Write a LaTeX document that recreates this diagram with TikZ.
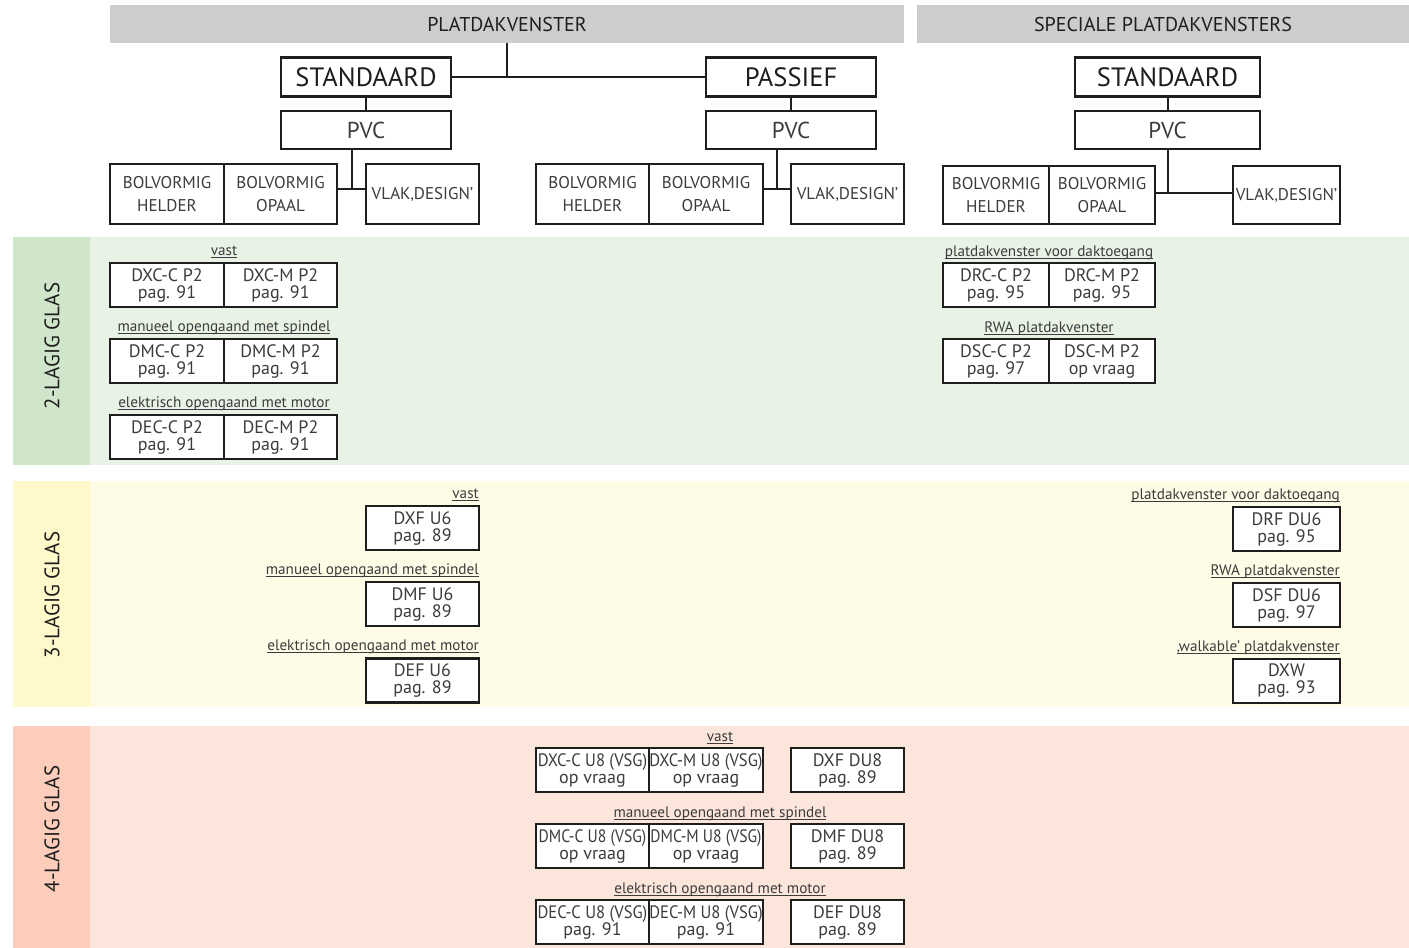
\documentclass[tikz,border=0pt]{standalone}
\usepackage{fontspec}
\setmainfont{PT Sans}
\definecolor{hdrgray}{HTML}{CCCDCF}
\definecolor{gl}{HTML}{E8F3E6}
\definecolor{gd}{HTML}{CFE6CB}
\definecolor{yl}{HTML}{FEFBE6}
\definecolor{yd}{HTML}{FFF8CB}
\definecolor{pl}{HTML}{FCE6DC}
\definecolor{pd}{HTML}{FBCDBA}
\definecolor{txt}{HTML}{3C3C3C}
\definecolor{dark}{HTML}{1E1E1E}
\newsavebox\ulbox
\newcommand\ulab[1]{\sbox\ulbox{#1}\rlap{\color{txt}\rule[-1.8pt]{\wd\ulbox}{0.7pt}}\usebox\ulbox}
\newcommand\sqzA[1]{\scalebox{0.92}[1]{#1}}
\newcommand\sqzB[1]{\scalebox{0.87}[1]{#1}}
\tikzset{
  hdr/.style={fill=hdrgray, inner sep=0, text=dark, font=\fontsize{20}{22}\selectfont},
  topbox/.style={draw=dark, line width=2.2pt, fill=white, inner sep=0, minimum height=39pt, text=dark, font=\fontsize{26.5}{28}\selectfont},
  pvcbox/.style={draw=dark, line width=2.2pt, fill=white, inner sep=0, minimum height=38pt, text=txt, font=\fontsize{23}{25}\selectfont},
  catbox/.style={draw=dark, line width=2.2pt, fill=white, inner sep=0, minimum height=60pt, align=center, text=txt, font=\fontsize{17}{23}\selectfont},
  pbox/.style={draw=dark, line width=2.2pt, fill=white, inner sep=0, minimum height=44pt, align=center, text=txt, font=\fontsize{18}{17}\selectfont},
  lab/.style={inner sep=0, text=txt, font=\fontsize{15.2}{17}\selectfont},
  side/.style={inner sep=0, rotate=90, text=dark, font=\fontsize{21}{23}\selectfont},
  conn/.style={draw=dark, line width=2pt},
}
\begin{document}
\begin{tikzpicture}[x=1pt,y=-1pt]
\useasboundingbox (0,0) rectangle (1409,948);
% bands
\fill[gl] (13,237) rectangle (1409,465);
\fill[gd] (13,237) rectangle (90,465);
\fill[yl] (13,481) rectangle (1409,707);
\fill[yd] (13,481) rectangle (90,707);
\fill[pl] (13,726) rectangle (1409,948);
\fill[pd] (13,726) rectangle (90,948);
\node[side] (s2) at (52,346) {2-LAGIG GLAS};
\node[side] (s3) at (52,595) {3-LAGIG GLAS};
\node[side] (s4) at (52,829) {4-LAGIG GLAS};
% headers
\node[hdr, minimum width=794pt, minimum height=38pt] (h1) at (507,24) {PLATDAKVENSTER};
\node[hdr, minimum width=492pt, minimum height=38pt] (h2) at (1163,24) {SPECIALE PLATDAKVENSTERS};
% level 1
\node[topbox, minimum width=170pt] (std1) at (366,77) {STANDAARD};
\node[topbox, minimum width=170pt] (pas) at (791,77) {PASSIEF};
\node[topbox, minimum width=185pt] (std2) at (1167.5,77) {STANDAARD};
\node[pvcbox, minimum width=170pt] (pvc1) at (366,130) {PVC};
\node[pvcbox, minimum width=170pt] (pvc2) at (791,130) {PVC};
\node[pvcbox, minimum width=185pt] (pvc3) at (1167.5,130) {PVC};
% categories
\node[catbox, minimum width=114pt] (lh) at (167,194) {BOLVORMIG\\HELDER};
\node[catbox, minimum width=113pt] (lo) at (280.5,194) {BOLVORMIG\\OPAAL};
\node[catbox, minimum width=113pt] (lv) at (422.5,194) {VLAK‚DESIGN’};
\node[catbox, minimum width=113pt] (mh) at (592.5,194) {BOLVORMIG\\HELDER};
\node[catbox, minimum width=114pt] (mo) at (706,194) {BOLVORMIG\\OPAAL};
\node[catbox, minimum width=113pt] (mv) at (847.5,194) {VLAK‚DESIGN’};
\node[catbox, minimum width=106pt, minimum height=58pt] (rh) at (996,195) {BOLVORMIG\\HELDER};
\node[catbox, minimum width=106pt, minimum height=58pt] (ro) at (1102,195) {BOLVORMIG\\OPAAL};
\node[catbox, minimum width=107pt, minimum height=58pt] (rv) at (1286.5,195) {VLAK‚DESIGN’};
% connectors
\coordinate (j1) at (352,189);
\coordinate (j2) at (777,189);
\coordinate (j3) at (1168,193);
\draw[conn] (h1.south) -- (h1.south |- std1.east);
\draw[conn] (std1.east) -- (pas.west);
\draw[conn] (std1.south) -- (pvc1.north);
\draw[conn] (pas.south) -- (pvc2.north);
\draw[conn] (std2.south) -- (pvc3.north);
\draw[conn] (j1 |- pvc1.south) -- (j1);
\draw[conn] (lo.east |- j1) -- (lv.west |- j1);
\draw[conn] (j2 |- pvc2.south) -- (j2);
\draw[conn] (mo.east |- j2) -- (mv.west |- j2);
\draw[conn] (j3 |- pvc3.south) -- (j3);
\draw[conn] (ro.east |- j3) -- (rv.west |- j3);
% green band
\node[lab] (g1) at (224,252) {\ulab{vast}};
\node[pbox, minimum width=114pt] (dxcc) at (167,285) {DXC-C P2\\pag. 91};
\node[pbox, minimum width=113pt] (dxcm) at (280.5,285) {DXC-M P2\\pag. 91};
\node[lab] (g2) at (224,328) {\ulab{manueel opengaand met spindel}};
\node[pbox, minimum width=114pt] (dmcc) at (167,361) {DMC-C P2\\pag. 91};
\node[pbox, minimum width=113pt] (dmcm) at (280.5,361) {DMC-M P2\\pag. 91};
\node[lab] (g3) at (224,404) {\ulab{elektrisch opengaand met motor}};
\node[pbox, minimum width=114pt] (decc) at (167,437) {DEC-C P2\\pag. 91};
\node[pbox, minimum width=113pt] (decm) at (280.5,437) {DEC-M P2\\pag. 91};
\node[lab] (g4) at (1049,253) {\ulab{platdakvenster voor daktoegang}};
\node[pbox, minimum width=106pt] (drcc) at (996,285) {DRC-C P2\\pag. 95};
\node[pbox, minimum width=106pt] (drcm) at (1102,285) {DRC-M P2\\pag. 95};
\node[lab] (g5) at (1049,329) {\ulab{RWA platdakvenster}};
\node[pbox, minimum width=106pt] (dscc) at (996,361) {DSC-C P2\\pag. 97};
\node[pbox, minimum width=106pt] (dscm) at (1102,361) {DSC-M P2\\op vraag};
% yellow band
\node[lab, anchor=east] (y1) at (479,495) {\ulab{vast}};
\node[pbox, minimum width=113pt] (dxf) at (422.5,528) {DXF U6\\pag. 89};
\node[lab, anchor=east] (y2) at (479,571) {\ulab{manueel opengaand met spindel}};
\node[pbox, minimum width=113pt] (dmf) at (422.5,604) {DMF U6\\pag. 89};
\node[lab, anchor=east] (y3) at (479,647) {\ulab{elektrisch opengaand met motor}};
\node[pbox, minimum width=113pt] (def) at (422.5,680.5) {DEF U6\\pag. 89};
\node[lab, anchor=east] (y4) at (1340,496) {\ulab{platdakvenster voor daktoegang}};
\node[pbox, minimum width=107pt] (drf) at (1286.5,529) {DRF DU6\\pag. 95};
\node[lab, anchor=east] (y5) at (1340,572) {\ulab{RWA platdakvenster}};
\node[pbox, minimum width=107pt] (dsf) at (1286.5,605) {DSF DU6\\pag. 97};
\node[lab, anchor=east] (y6) at (1340,648) {\ulab{‚walkable’ platdakvenster}};
\node[pbox, minimum width=107pt] (dxw) at (1286.5,681) {DXW\\pag. 93};
% pink band
\node[lab] (p1) at (720,738) {\ulab{vast}};
\node[pbox, minimum width=113pt] (dxcu) at (592.5,770) {\sqzA{DXC-C U8 (VSG)}\\op vraag};
\node[pbox, minimum width=114pt] (dxmu) at (706,770) {\sqzA{DXC-M U8 (VSG)}\\op vraag};
\node[pbox, minimum width=113pt] (dxfd) at (847.5,770) {DXF DU8\\pag. 89};
\node[lab] (p2) at (720,814) {\ulab{manueel opengaand met spindel}};
\node[pbox, minimum width=113pt] (dmcu) at (592.5,846) {\sqzB{DMC-C U8 (VSG)}\\op vraag};
\node[pbox, minimum width=114pt] (dmmu) at (706,846) {\sqzB{DMC-M U8 (VSG)}\\op vraag};
\node[pbox, minimum width=113pt] (dmfd) at (847.5,846) {DMF DU8\\pag. 89};
\node[lab] (p3) at (720,890) {\ulab{elektrisch opengaand met motor}};
\node[pbox, minimum width=113pt] (decu) at (592.5,922) {\sqzA{DEC-C U8 (VSG)}\\pag. 91};
\node[pbox, minimum width=114pt] (demu) at (706,922) {\sqzA{DEC-M U8 (VSG)}\\pag. 91};
\node[pbox, minimum width=113pt] (defd) at (847.5,922) {DEF DU8\\pag. 89};
\end{tikzpicture}
\end{document}
